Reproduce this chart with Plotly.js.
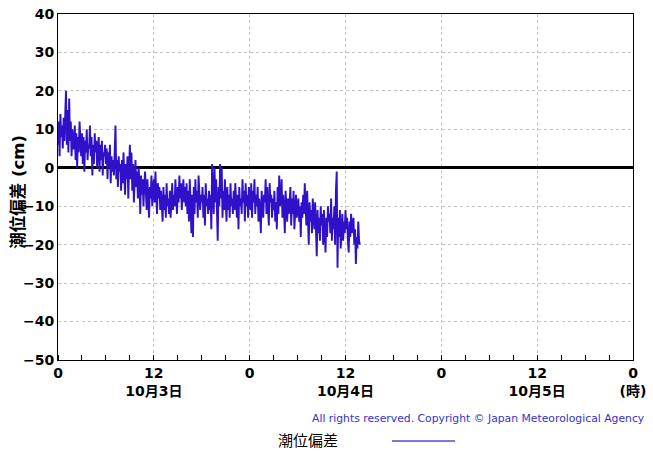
<!DOCTYPE html>
<html>
<head>
<meta charset="utf-8">
<script src="https://cdn.plot.ly/plotly-3.0.1.min.js"></script>
<style>html,body{margin:0;padding:0;background:#fff;}#chart{width:653px;height:451px;}</style>
</head>
<body>
<div id="chart"></div>
<script>
// hours since 10/3 00:00, one value every 0.1 h (6 min)
const stepHours = 0.1;
const surge = [
  6, 12, 3, 14, 8, 11, 5, 13, 7, 15,
  20, 6, 15, 4, 18, 7, 12, 3, 10, 5,
  5, 11, 2, 9, 0, 8, 4, 12, 6, 3,
  9, 1, 8, -1, 7, 4, 10, 2, 6, 5,
  11, 3, 8, -2, 6, 1, 9, 4, 7, 0,
  5, 8, -1, 6, 2, 7, -2, 4, 3, 6,
  1, 5, -3, 4, 0, 6, -4, 3, -1, 2,
  -2, 4, 11, -3, 2, -5, 3, -1, 1, -6,
  2, -4, 4, -2, -7, 1, -3, 3, -8, 0,
  6, -3, 4, -6, 1, -9, -2, 2, -5, -1,
  -8, 0, -4, -12, -2, -7, -3, -10, -5, -1,
  -6, -11, -3, -9, -13, -5, -8, -2, -10, -6,
  -3, -9, -1, -7, -12, -4, -8, -5, -11, -6,
  -9, -14, -5, -11, -7, -13, -4, -10, -8, -12,
  -6, -13, -9, -4, -11, -7, -10, -3, -8, -12,
  -5, -9, -2, -8, -4, -11, -6, -3, -9, -5,
  -10, -4, -12, -6, -14, -3, -9, -17, -7, -18,
  -5, -12, -3, -9, -6, -13, -2, -8, -11, -7,
  -9, -5, -13, -7, -15, -4, -10, -8, -12, -6,
  -11, -7, -16, 1, -4, -12, 0, -9, -3, -14,
  -19, -5, -10, 1, -8, 0, -13, -6, -11, -3,
  -9, -14, -5, -11, -7, -13, -4, -10, -8, -12,
  -6, -11, -4, -9, -13, -7, -16, -5, -10, -8,
  -12, -3, -9, -6, -14, -4, -10, -7, -13, -5,
  -8, -11, -4, -13, -6, -9, -3, -12, -7, -10,
  -5, -14, -8, -11, -17, -6, -10, -13, -7, -9,
  -3, -12, -5, -10, -15, -4, -9, -7, -13, -8,
  -11, -6, -14, -9, -16, -5, -12, -2, -10, -8,
  -3, -13, -7, -11, -17, -6, -10, -14, -8, -12,
  -9, -5, -15, -8, -12, -6, -16, -10, -7, -13,
  -11, -8, -14, -10, -18, -9, -13, -7, -12, -4,
  -10, -15, -6, -13, -20, -9, -14, -11, -17, -8,
  -12, -16, -9, -14, -23, -11, -17, -13, -19, -10,
  -15, -12, -20, -11, -16, -22, -13, -18, -10, -14,
  -12, -17, -8, -19, -13, -16, -10, -20, -6, -1,
  -26, -13, -18, -11, -21, -15, -12, -19, -14, -17,
  -11, -16, -13, -19, -22, -14, -18, -12, -17, -15,
  -13, -20, -16, -25, -18, -21, -14, -19, -20
];
const hours = surge.map((v, i) => +(i * stepHours).toFixed(2));

const tickVals = [0, 12, 24, 36, 48, 60, 72];
const tickText = ['0', '12<br>10月3日', '0', '12<br>10月4日', '0', '12<br>10月5日', '0<br>(時)'];
const yTicks = [40, 30, 20, 10, 0, -10, -20, -30, -40, -50];

const trace = {
  x: hours, y: surge, type: 'scatter', mode: 'lines',
  line: {color: '#3010c8', width: 1.9}, showlegend: false, hoverinfo: 'skip'
};

const layout = {
  width: 653, height: 451,
  margin: {l: 58, r: 20, t: 14, b: 91},
  paper_bgcolor: '#fff', plot_bgcolor: '#fff',
  font: {family: 'DejaVu Sans', color: '#000'},
  showlegend: false,
  xaxis: {
    range: [0, 72], tickvals: tickVals, ticktext: tickText,
    showgrid: true, gridcolor: '#c4c4c4', griddash: '3px,3px', gridwidth: 1,
    showline: true, linecolor: '#000', linewidth: 1, mirror: true,
    ticks: '', zeroline: false,
    tickfont: {family: 'DejaVu Sans, Noto Sans CJK JP', size: 14, color: '#000', weight: 'bold'},
    minor: {dtick: 3, ticks: 'inside', ticklen: 5, tickcolor: '#000', showgrid: false}
  },
  yaxis: {
    range: [-50, 40], tickvals: yTicks,
    showgrid: true, gridcolor: '#c4c4c4', griddash: '3px,3px', gridwidth: 1,
    showline: true, linecolor: '#000', linewidth: 1, mirror: true,
    ticks: '', zeroline: true, zerolinecolor: '#000', zerolinewidth: 3,
    tickfont: {family: 'DejaVu Sans', size: 14, color: '#000', weight: 'bold'}
  },
  shapes: [
    {type: 'line', xref: 'paper', yref: 'paper', x0: 0.5809, x1: 0.6904, y0: -0.234, y1: -0.234,
     line: {color: '#5a48d0', width: 1.5}}
  ],
  annotations: [
    {xref: 'paper', yref: 'paper', x: -0.0678, y: 0.486, xanchor: 'center', yanchor: 'middle',
     text: '潮位偏差 (cm)', showarrow: false, textangle: -90,
     font: {family: 'DejaVu Sans, Noto Sans CJK JP', size: 16.5, color: '#000', weight: 'bold'}},
    {xref: 'paper', yref: 'paper', x: 1.0243, y: -0.1705, xanchor: 'right', yanchor: 'middle',
     text: 'All rights reserved. Copyright © Japan Meteorological Agency',
     showarrow: false, font: {family: 'DejaVu Sans', size: 10.8, color: '#3333cc'}},
    {xref: 'paper', yref: 'paper', x: 0.4348, y: -0.231, xanchor: 'center', yanchor: 'middle',
     text: '潮位偏差', showarrow: false,
     font: {family: 'Noto Sans CJK JP', size: 15, color: '#000'}}
  ]
};

Plotly.newPlot('chart', [trace], layout, {displayModeBar: false, staticPlot: true});
</script>
</body>
</html>
